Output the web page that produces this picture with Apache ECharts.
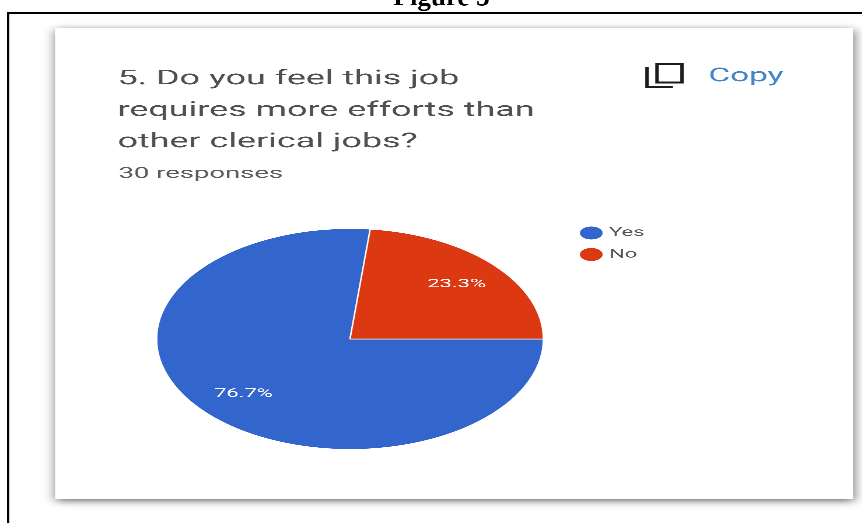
<!DOCTYPE html>
<html>
<head>
<meta charset="utf-8">
<style>
  html, body { margin: 0; padding: 0; background: #fff; overflow: hidden; }
  #chart { position: absolute; left: 0; top: 0; height: 523px; transform-origin: 0 0; }
</style>
<script src="https://cdn.jsdelivr.net/npm/echarts@6/dist/echarts.min.js"></script>
</head>
<body>
<div id="chart"></div>
<script>
// Survey answers for question 5
const categories = ['Yes', 'No'];
const responses = [23, 7];
const sliceColors = ['#3366cc', '#dc3912'];
const figureCaption = 'Figure 5';
const questionLines = ['5. Do you feel this job', 'requires more efforts than', 'other clerical jobs?'];
const responseCount = '30 responses';
const copyLabel = 'Copy';

// The whole drawing is widened horizontally, so the pie reads as an ellipse
const STRETCH = 1.75;
const PAGE_WIDTH = 862;
const sx = x => x / STRETCH;

const el = document.getElementById('chart');
el.style.width = (PAGE_WIDTH / STRETCH) + 'px';
el.style.transform = 'scaleX(' + STRETCH + ')';

const PIE_RADIUS = 110.5;
const LABEL_RADIUS = 79;
const total = responses.reduce((a, b) => a + b, 0);

// Moves a slice label from the mid radius out towards the rim
function labelShift(index) {
  const before = responses.slice(0, index).reduce((a, b) => a + b, 0);
  const mid = (before + responses[index] / 2) / total * 2 * Math.PI;
  const extra = LABEL_RADIUS - PIE_RADIUS / 2;
  return { dx: extra * Math.cos(mid), dy: extra * Math.sin(mid) };
}

const chart = echarts.init(el, null, { renderer: 'canvas', devicePixelRatio: 3 });
chart.setOption({
  backgroundColor: '#ffffff',
  animation: false,
  color: sliceColors,
  title: [
    {
      text: questionLines.join('\n'),
      left: sx(117.5), top: 63.5, padding: 0,
      textStyle: { fontFamily: 'Roboto', fontSize: 20.5, fontWeight: 'normal', color: '#505050', lineHeight: 31.5 }
    },
    {
      text: responseCount,
      left: sx(118.5), top: 164, padding: 0,
      textStyle: { fontFamily: 'Roboto', fontSize: 15.7, fontWeight: 'normal', color: '#5c5c5c', lineHeight: 20 }
    }
  ],
  legend: {
    orient: 'vertical',
    left: sx(579) - 1.5, top: 224.5,
    icon: 'circle',
    itemWidth: 15, itemHeight: 15, itemGap: 4.5,
    padding: 0,
    data: categories,
    textStyle: { fontFamily: 'Roboto', fontSize: 12.5, color: '#555555', padding: [0, 0, 0, -2.3] },
    selectedMode: false
  },
  series: [{
    type: 'pie',
    center: [sx(350), 339],
    radius: [0, PIE_RADIUS],
    startAngle: 0,
    clockwise: true,
    silent: true,
    data: categories.map((name, i) => ({ name, value: responses[i] })),
    itemStyle: { borderColor: '#ffffff', borderWidth: 0.8 },
    label: {
      position: 'inside',
      formatter: p => p.percent.toFixed(1) + '%',
      fontFamily: 'Roboto', fontSize: 12.5, color: '#ffffff'
    },
    percentPrecision: 1,
    labelLayout: p => labelShift(p.dataIndex),
    labelLine: { show: false }
  }],
  graphic: [
    // Document frame: left and top rules
    { type: 'rect', z: 0, shape: { x: sx(7), y: 12, width: sx(2.2), height: 511 }, style: { fill: '#000' } },
    { type: 'rect', z: 0, shape: { x: sx(7), y: 12, width: sx(855), height: 2.2 }, style: { fill: '#000' } },
    // Response card with its drop shadow
    {
      type: 'rect', z: 1,
      shape: { x: sx(55), y: 28, width: sx(798), height: 471 },
      style: { fill: '#fff', shadowBlur: 7, shadowOffsetX: 0.5, shadowOffsetY: 2, shadowColor: 'rgba(0,0,0,0.6)' }
    },
    // Copy icon: front square and the corner of the sheet behind it
    {
      type: 'rect', z: 3,
      shape: { x: sx(657), y: 64, width: sx(25), height: 18.5 },
      style: { fill: 'none', stroke: '#1c1c1c', lineWidth: 2 }
    },
    {
      type: 'polyline', z: 3,
      shape: { points: [[sx(647), 67], [sx(647), 87], [sx(673), 87]] },
      style: { fill: 'none', stroke: '#1c1c1c', lineWidth: 2 }
    },
    {
      type: 'text', z: 3, x: sx(708.5), y: 76.5,
      style: { text: copyLabel, fontFamily: 'Roboto', fontSize: 19, fontWeight: 400, fill: '#4285c8', verticalAlign: 'middle' }
    },
    // Caption sits outside the widened card, so it is narrowed back to normal proportions
    {
      type: 'text', z: 3, x: sx(441.5), y: 12, scaleX: 1 / STRETCH,
      style: { text: figureCaption, fontFamily: 'Liberation Serif', fontSize: 27, fontWeight: 'bold', fill: '#000', align: 'center', verticalAlign: 'bottom' }
    }
  ]
});
</script>
</body>
</html>
